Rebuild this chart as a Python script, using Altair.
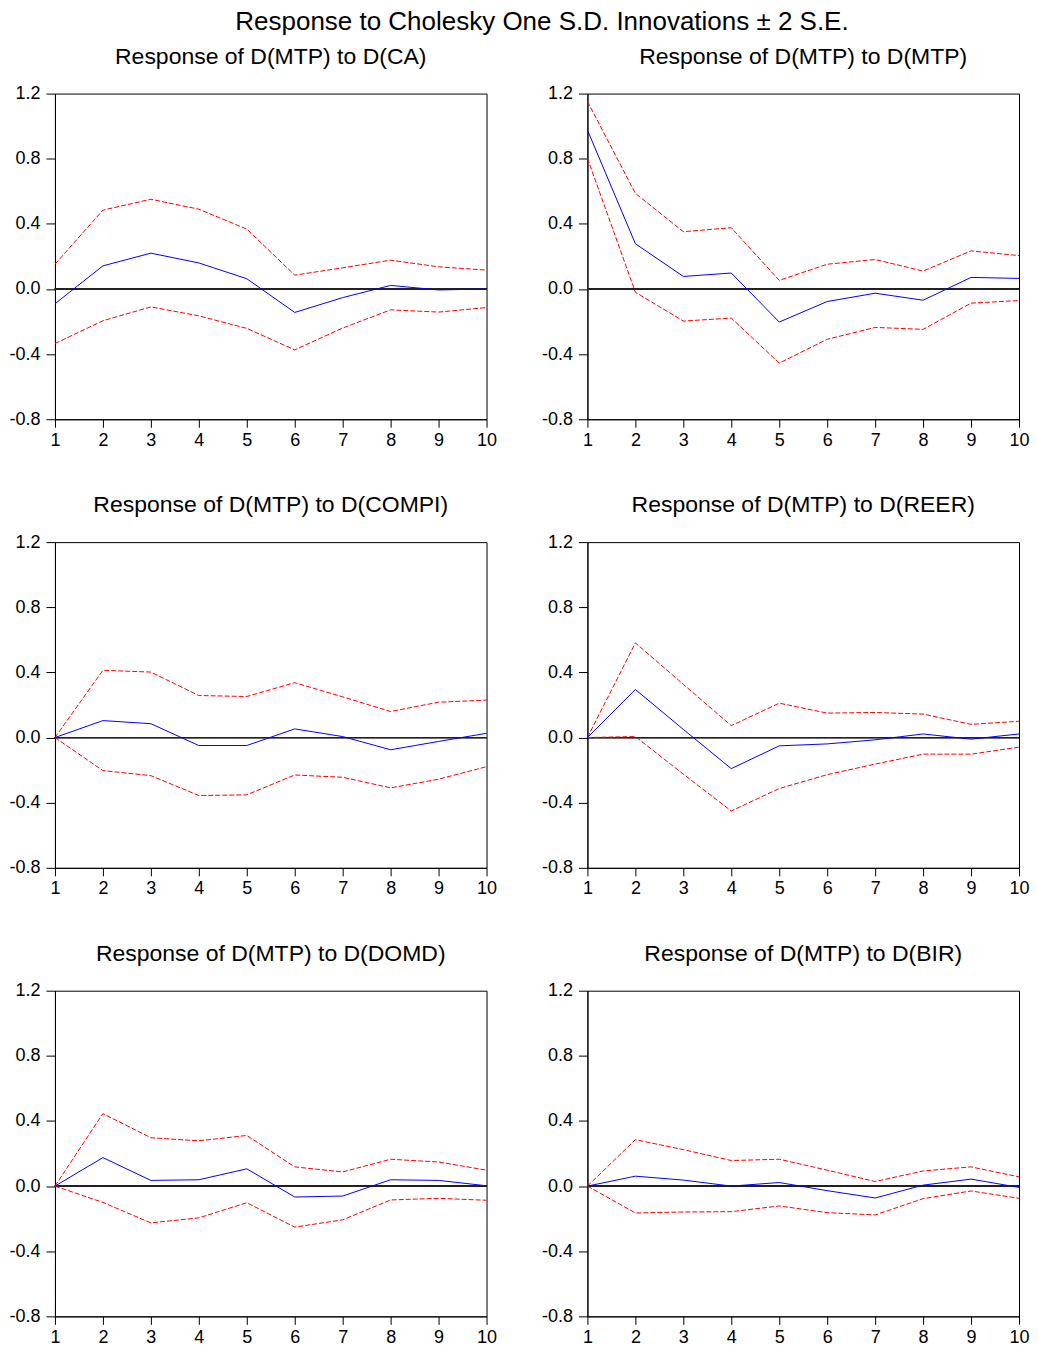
import altair as alt
import pandas as pd

steps = [1, 2, 3, 4, 5, 6, 7, 8, 9, 10]

main_title = "Response to Cholesky One S.D. Innovations \u00b1 2 S.E."
panel_titles = [
    "Response of D(MTP) to D(CA)",
    "Response of D(MTP) to D(MTP)",
    "Response of D(MTP) to D(COMPI)",
    "Response of D(MTP) to D(REER)",
    "Response of D(MTP) to D(DOMD)",
    "Response of D(MTP) to D(BIR)",
]

ca_resp = [-0.091, 0.142, 0.220, 0.160, 0.063, -0.144, -0.053, 0.022, -0.006, 0.000]
ca_upper = [0.152, 0.484, 0.551, 0.490, 0.368, 0.085, 0.130, 0.177, 0.136, 0.116]
ca_lower = [-0.335, -0.195, -0.110, -0.165, -0.242, -0.374, -0.240, -0.128, -0.142, -0.114]

mtp_resp = [0.976, 0.278, 0.077, 0.098, -0.203, -0.077, -0.026, -0.069, 0.071, 0.065]
mtp_upper = [1.152, 0.587, 0.352, 0.376, 0.053, 0.152, 0.181, 0.110, 0.234, 0.205]
mtp_lower = [0.803, -0.020, -0.197, -0.179, -0.455, -0.309, -0.236, -0.248, -0.087, -0.071]

compi_resp = [0.000, 0.104, 0.085, -0.049, -0.049, 0.053, 0.006, -0.075, -0.024, 0.026]
compi_upper = [0.000, 0.413, 0.402, 0.258, 0.252, 0.337, 0.250, 0.160, 0.217, 0.230]
compi_lower = [0.000, -0.203, -0.234, -0.356, -0.352, -0.230, -0.244, -0.309, -0.256, -0.179]

reer_resp = [0.000, 0.295, 0.050, -0.191, -0.051, -0.039, -0.014, 0.022, -0.010, 0.022]
reer_upper = [0.000, 0.581, 0.327, 0.073, 0.211, 0.150, 0.154, 0.144, 0.081, 0.100]
reer_lower = [0.000, 0.006, -0.225, -0.451, -0.313, -0.228, -0.163, -0.102, -0.102, -0.059]

domd_resp = [0.000, 0.175, 0.035, 0.039, 0.106, -0.067, -0.061, 0.039, 0.035, 0.002]
domd_upper = [0.000, 0.445, 0.297, 0.278, 0.311, 0.118, 0.087, 0.165, 0.148, 0.098]
domd_lower = [0.000, -0.100, -0.226, -0.195, -0.102, -0.252, -0.207, -0.085, -0.075, -0.087]

bir_resp = [0.000, 0.061, 0.037, 0.000, 0.022, -0.028, -0.073, 0.006, 0.043, -0.008]
bir_upper = [0.000, 0.285, 0.224, 0.157, 0.165, 0.098, 0.028, 0.093, 0.118, 0.057]
bir_lower = [0.000, -0.165, -0.159, -0.157, -0.122, -0.163, -0.177, -0.077, -0.030, -0.075]

y_ticks = [-0.8, -0.4, 0.0, 0.4, 0.8, 1.2]

FONT = "Liberation Sans"


def make_panel(title, resp, upper, lower):
    df = pd.DataFrame({
        "step": steps * 3,
        "value": resp + upper + lower,
        "series": ["resp"] * 10 + ["upper"] * 10 + ["lower"] * 10,
    })
    x = alt.X("step:Q",
              scale=alt.Scale(domain=[1, 10], nice=False, zero=False),
              axis=alt.Axis(values=steps, format="d", title=None, labelFlush=False,
                            tickSize=8, labelPadding=4))
    y = alt.Y("value:Q",
              scale=alt.Scale(domain=[-0.8, 1.2], nice=False, zero=False),
              axis=alt.Axis(values=y_ticks, title=None, labelFlush=False,
                            tickSize=9, labelPadding=6,
                            labelExpr="replace(format(datum.value, '.1f'), '\u2212', '-')"))
    zero = alt.Chart(df).mark_rule(color="#222222", strokeWidth=1).encode(y=alt.datum(0))
    bands = (alt.Chart(df)
             .transform_filter(alt.FieldOneOfPredicate(field="series", oneOf=["upper", "lower"]))
             .mark_line(color="#FF0000", strokeWidth=1, strokeDash=[5, 2])
             .encode(x=x, y=y, detail="series:N"))
    line = (alt.Chart(df)
            .transform_filter(alt.FieldEqualPredicate(field="series", equal="resp"))
            .mark_line(color="#0000FF", strokeWidth=1)
            .encode(x=x, y=y))
    return alt.layer(zero, bands, line).properties(
        width=432, height=326,
        title=alt.TitleParams(title, fontSize=23, font=FONT, fontWeight="normal",
                              anchor="middle", frame="group", offset=16, color="black"),
    )


p = [
    make_panel(panel_titles[0], ca_resp, ca_upper, ca_lower),
    make_panel(panel_titles[1], mtp_resp, mtp_upper, mtp_lower),
    make_panel(panel_titles[2], compi_resp, compi_upper, compi_lower),
    make_panel(panel_titles[3], reer_resp, reer_upper, reer_lower),
    make_panel(panel_titles[4], domd_resp, domd_upper, domd_lower),
    make_panel(panel_titles[5], bir_resp, bir_upper, bir_lower),
]

rows = [alt.hconcat(p[i], p[i + 1], spacing=43) for i in (0, 2, 4)]

chart = alt.vconcat(*rows, spacing=43).properties(
    title=alt.TitleParams(main_title, fontSize=26, font=FONT, fontWeight="normal",
                          anchor="middle", offset=10, color="black", dx=23),
    padding={"left": 0, "top": 0, "right": 0, "bottom": 0},
    background="white",
).configure_view(
    stroke="black", strokeWidth=1
).configure_axis(
    grid=False, domainColor="black", domainWidth=1, tickColor="black", tickWidth=1,
    labelFont=FONT, labelFontSize=18, labelColor="black",
)

chart.save("out.html", embed_options={"renderer": "svg", "actions": False})
